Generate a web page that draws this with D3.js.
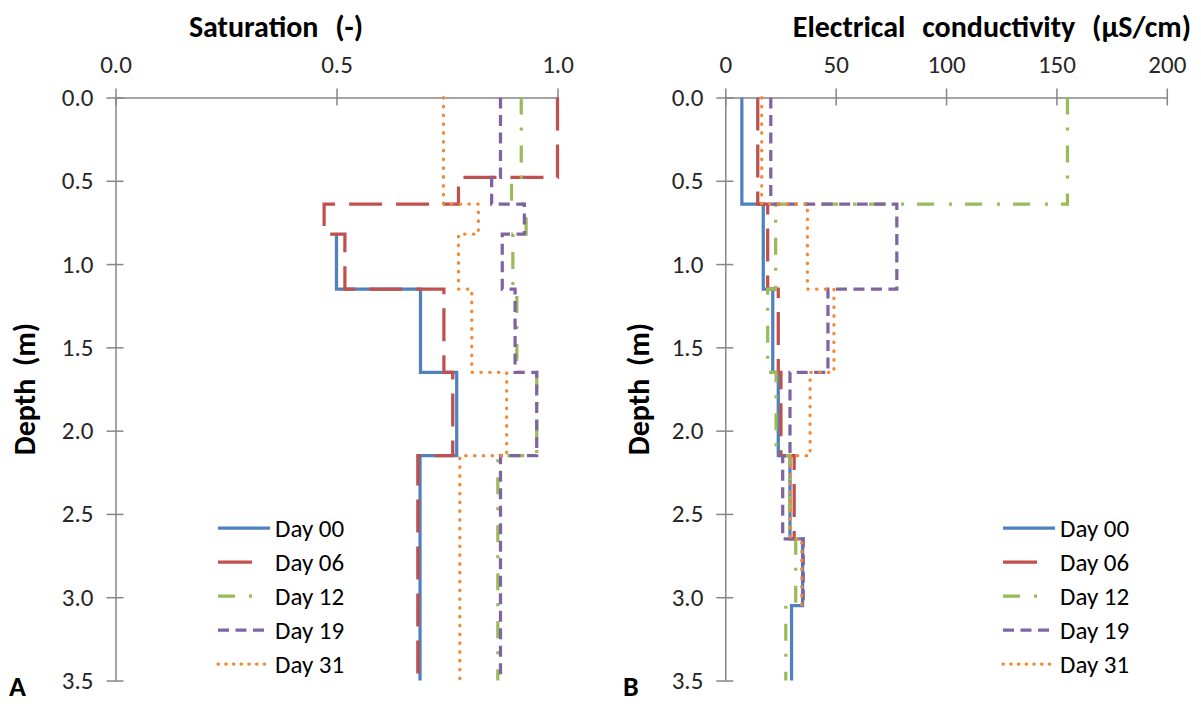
<!DOCTYPE html>
<html>
<head>
<meta charset="utf-8">
<script src="https://cdn.jsdelivr.net/npm/d3@7"></script>
<style>
  html, body { margin: 0; padding: 0; background: #fff; }
  svg { display: block; font-family: Carlito, Calibri, Lato, sans-serif; }
  .axis path, .axis line { stroke: #868686; stroke-width: 1.5; }
  .axis text { fill: #262626; font-size: 25px; }
  .title { font-weight: bold; font-size: 30px; fill: #000; word-spacing: 10px; }
  .ylabel { font-weight: bold; font-size: 30px; fill: #000; word-spacing: 6px; }
  .panel { font-weight: bold; font-size: 28px; fill: #000; }
  .legend text { font-size: 25px; fill: #000; }
</style>
</head>
<body>
<svg id="chart" width="1201" height="704"></svg>
<script>
// Sampled soil layers (m): each value applies from depthTop[i] to depthBottom[i]
const depthTop    = [0.00, 0.48, 0.64, 0.82, 1.15, 1.65, 2.15, 2.65, 3.05];
const depthBottom = [0.48, 0.64, 0.82, 1.15, 1.65, 2.15, 2.65, 3.05, 3.50];

const days = ["Day 00", "Day 06", "Day 12", "Day 19", "Day 31"];

// Saturation (-) per layer; null = not measured
const satDay00 = [null, null, null, 0.50, 0.69, 0.772, 0.689, 0.689, 0.689];
const satDay06 = [1.00, 0.776, 0.472, 0.519, 0.743, 0.763, 0.684, 0.684, 0.684];
const satDay12 = [0.918, 0.896, 0.929, 0.899, 0.908, 0.953, 0.865, 0.865, 0.865];
const satDay19 = [0.871, 0.851, 0.925, 0.875, 0.904, 0.953, 0.871, 0.871, 0.871];
const satDay31 = [0.742, 0.742, 0.821, 0.776, 0.806, 0.885, 0.779, 0.779, 0.779];

// Electrical conductivity (µS/cm) per layer; null = not measured
const ecDay00 = [7.5, 7.5, 17.2, 17.2, 21.5, 24.0, 29.3, 35.0, 30.0];
const ecDay06 = [14.7, 14.7, 19.2, 19.2, 24.0, 25.2, 31.2, null, null];
const ecDay12 = [155.0, 155.0, 22.8, 22.8, 19.2, 23.0, 29.3, 31.9, 27.4];
const ecDay19 = [20.6, 20.6, 77.7, 77.7, 46.5, 29.3, 26.0, 35.3, null];
const ecDay31 = [16.5, 16.5, 37.2, 37.2, 49.2, 38.4, 29.5, 34.6, null];

const depthTicks = [0, 0.5, 1, 1.5, 2, 2.5, 3, 3.5];
const satTicks = [0, 0.5, 1];
const ecTicks = [0, 50, 100, 150, 200];

// Line styles for each day
const colors = ["#4F81BD", "#C0504D", "#9BBB59", "#8064A2", "#F38A33"];
const dashes = [null, "33,14", "17,13,3,15", "11,6.5", "0.5,8.3"];
const legendDashes = [null, "34,60", "17,14,3,60", "11,6.5", "0.5,7.2"];
const caps = ["butt", "butt", "butt", "butt", "round"];

const svg = d3.select("#chart");

// Turn layered values into a step profile (value, depth) with breaks where missing
function stepProfile(values) {
  const pts = [];
  values.forEach((v, i) => {
    if (v == null) {
      pts.push(null);
    } else {
      pts.push({ v: v, d: depthTop[i] });
      pts.push({ v: v, d: depthBottom[i] });
    }
  });
  return pts;
}

function drawPanel(opts) {
  const x = d3.scaleLinear().domain(opts.xDomain).range([opts.left, opts.right]);
  const y = d3.scaleLinear().domain([0, 3.5]).range([97.5, 680.5]);

  // top value axis with crossing ticks
  const gx = svg.append("g").attr("class", "axis")
    .attr("transform", `translate(0,${y(0)})`)
    .call(d3.axisTop(x).tickValues(opts.xTicks).tickFormat(opts.xFormat)
      .tickSizeInner(9).tickSizeOuter(0).tickPadding(16));
  gx.selectAll(".tick line").attr("y1", 8);
  gx.attr("font-size", null).attr("font-family", null);

  // left depth axis with crossing ticks
  const gy = svg.append("g").attr("class", "axis")
    .attr("transform", `translate(${x(opts.xDomain[0])},0)`)
    .call(d3.axisLeft(y).tickValues(depthTicks).tickFormat(d3.format(".1f"))
      .tickSizeInner(9).tickSizeOuter(0).tickPadding(13));
  gy.selectAll(".tick line").attr("x1", 8);
  gy.attr("font-size", null).attr("font-family", null);

  const line = d3.line()
    .defined(p => p != null)
    .x(p => x(p.v))
    .y(p => y(p.d));

  opts.series.forEach((vals, i) => {
    svg.append("path")
      .datum(stepProfile(vals))
      .attr("d", line)
      .attr("fill", "none")
      .attr("stroke", colors[i])
      .attr("stroke-width", 3.25)
      .attr("stroke-linecap", caps[i])
      .attr("stroke-linejoin", "miter")
      .attr("stroke-dasharray", dashes[i]);
  });

  // axis titles
  svg.append("text").attr("class", "title")
    .attr("x", opts.titleX).attr("y", 37)
    .attr("text-anchor", opts.titleAnchor)
    .text(opts.title);

  svg.append("text").attr("class", "ylabel")
    .attr("transform", `translate(${opts.ylabelX},${(y(0) + y(3.5)) / 2}) rotate(-90)`)
    .attr("text-anchor", "middle")
    .text("Depth (m)");

  svg.append("text").attr("class", "panel")
    .attr("x", opts.panelX).attr("y", 696)
    .text(opts.panel);

  // legend
  const lg = svg.append("g").attr("class", "legend");
  days.forEach((name, i) => {
    const ly = 528 + i * 34;
    lg.append("line")
      .attr("x1", opts.legendX).attr("x2", opts.legendX + 52)
      .attr("y1", ly).attr("y2", ly)
      .attr("stroke", colors[i])
      .attr("stroke-width", 3.25)
      .attr("stroke-linecap", caps[i])
      .attr("stroke-dasharray", legendDashes[i]);
    lg.append("text")
      .attr("x", opts.legendX + 57).attr("y", ly)
      .attr("dy", "0.35em")
      .text(name);
  });
}

drawPanel({
  xDomain: [0, 1], left: 115.5, right: 557.5,
  xTicks: satTicks, xFormat: d3.format(".1f"),
  series: [satDay00, satDay06, satDay12, satDay19, satDay31],
  title: "Saturation (-)", titleX: 276, titleAnchor: "middle",
  ylabelX: 35, panel: "A", panelX: 9, legendX: 218
});

drawPanel({
  xDomain: [0, 200], left: 725.3, right: 1166.8,
  xTicks: ecTicks, xFormat: d3.format("d"),
  series: [ecDay00, ecDay06, ecDay12, ecDay19, ecDay31],
  title: "Electrical conductivity (µS/cm)", titleX: 1191, titleAnchor: "end",
  ylabelX: 649, panel: "B", panelX: 623, legendX: 1003
});
</script>
</body>
</html>
